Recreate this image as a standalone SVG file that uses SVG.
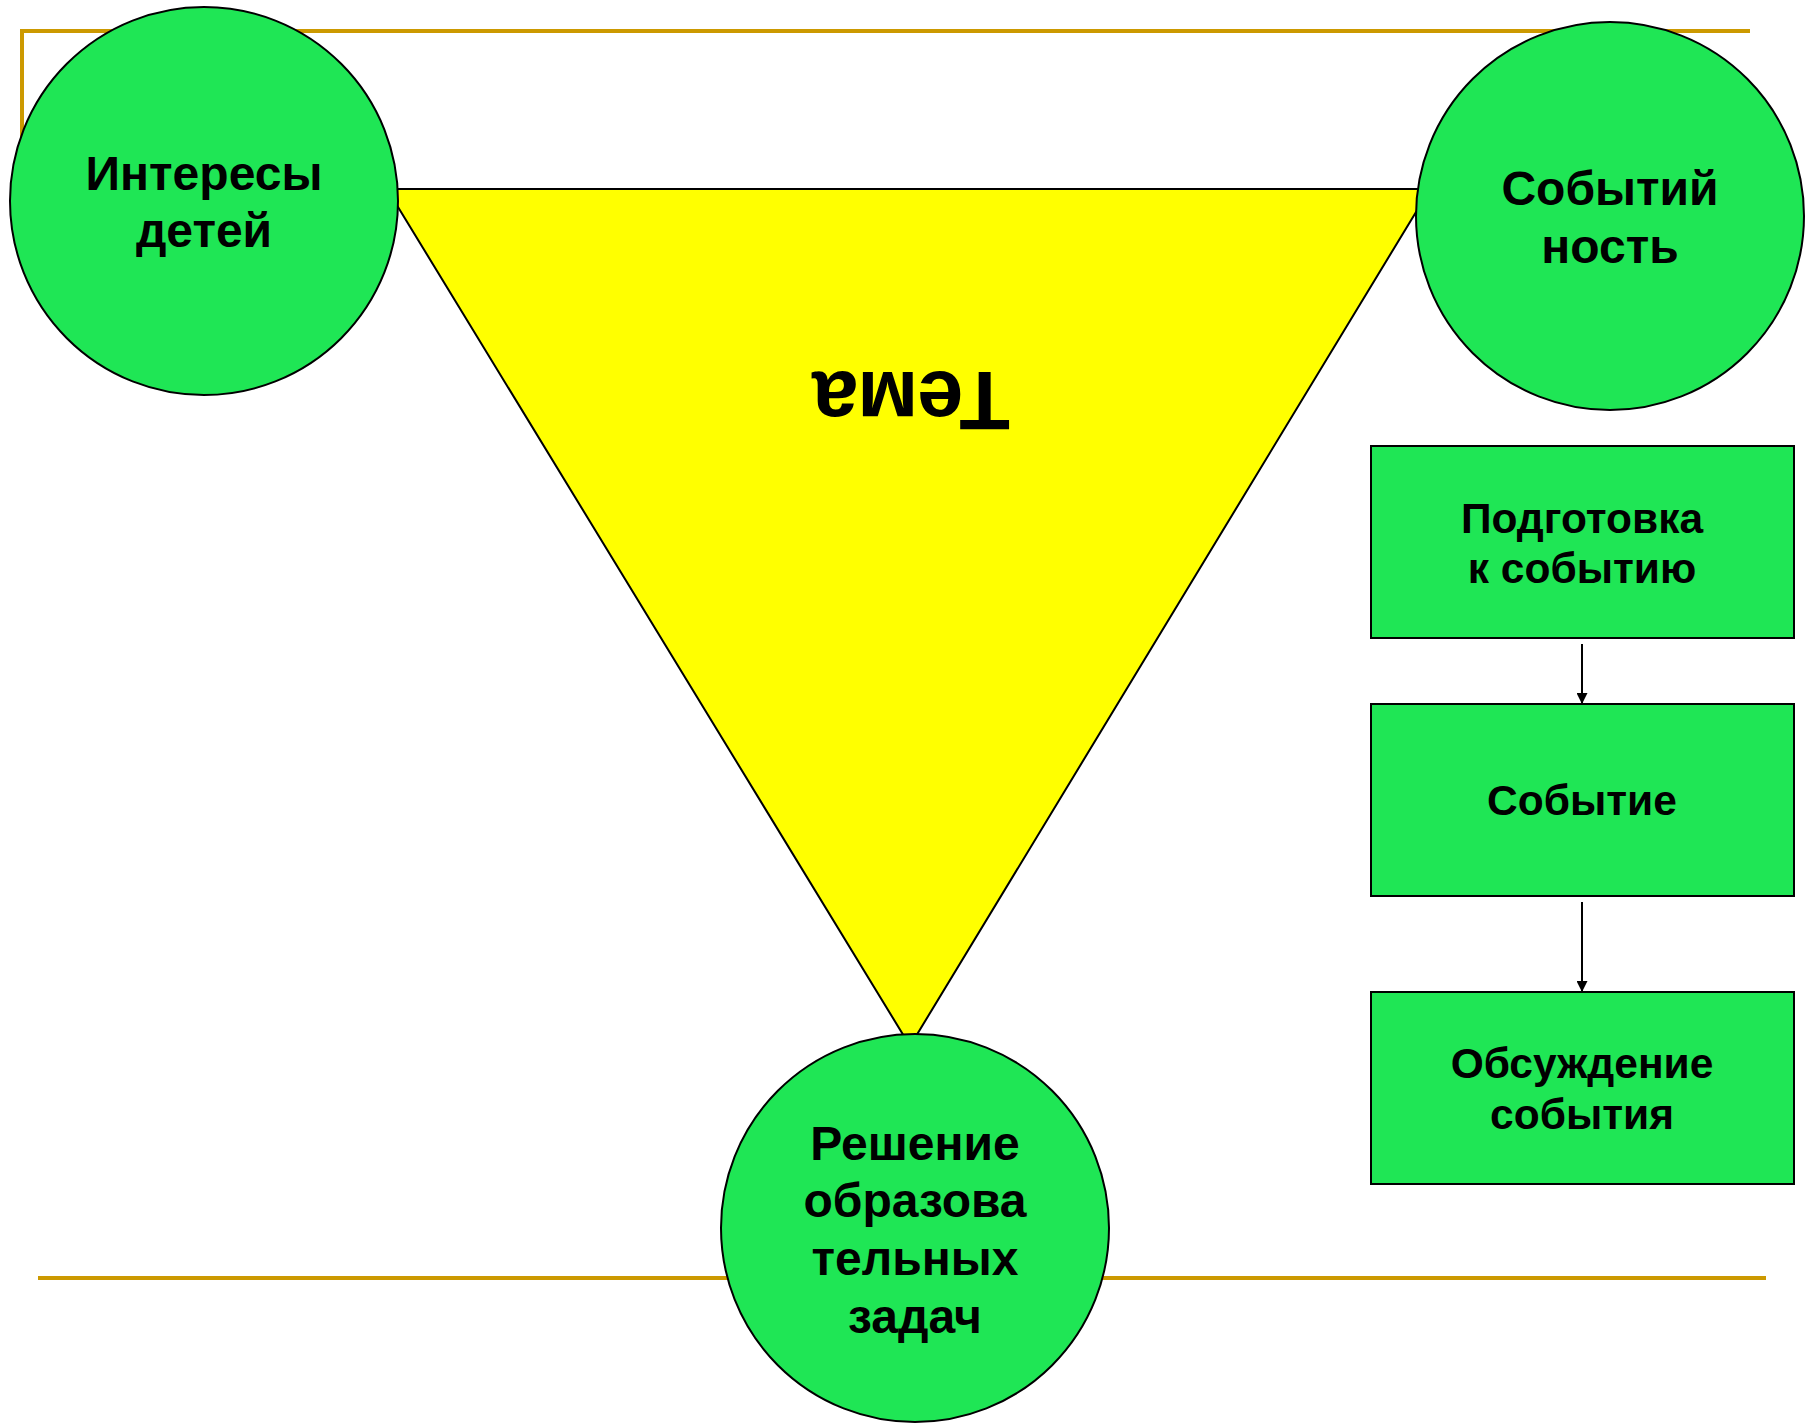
<svg xmlns="http://www.w3.org/2000/svg" width="1820" height="1423" viewBox="0 0 1820 1423">
<style>
.gold{stroke:#CC9900;stroke-width:4;fill:none}
.node{fill:#1FE655;stroke:#000;stroke-width:2}
.t{font-family:"Liberation Sans",Arial,sans-serif;font-weight:bold;fill:#000;text-anchor:middle}
.c{font-size:48px}
.b{font-size:42.5px}
.edge{stroke:#000;stroke-width:2;fill:none}
</style>
<defs>
<marker id="arr" markerWidth="11" markerHeight="11" refX="10" refY="5.5" orient="auto" markerUnits="userSpaceOnUse">
<path d="M0,0 L11,5.5 L0,11 z" fill="#000"/>
</marker>
</defs>
<rect width="1820" height="1423" fill="#fff"/>
<g id="frame">
<polyline class="gold" points="22,200 22,31 1750,31"/>
<line class="gold" x1="38" y1="1278" x2="1766" y2="1278"/>
</g>
<g id="tema">
<polygon points="387,189 1430,189 910,1046" fill="#FFFF00" stroke="#000" stroke-width="2"/>
<text class="t" font-size="83" transform="rotate(180 911 402)" x="911" y="432">Тема</text>
</g>
<g id="interests">
<circle class="node" cx="204" cy="201" r="194"/>
<text class="t c" x="204" y="190">Интересы</text>
<text class="t c" x="204" y="247">детей</text>
</g>
<g id="eventness">
<circle class="node" cx="1610" cy="216" r="194"/>
<text class="t c" x="1610" y="205">Событий</text>
<text class="t c" x="1610" y="263">ность</text>
</g>
<g id="tasks">
<circle class="node" cx="915" cy="1228" r="194"/>
<text class="t c" x="915" y="1160">Решение</text>
<text class="t c" x="915" y="1217">образова</text>
<text class="t c" x="915" y="1275">тельных</text>
<text class="t c" x="915" y="1333">задач</text>
</g>
<g id="prep">
<rect class="node" x="1371" y="446" width="423" height="192"/>
<text class="t b" x="1582" y="533">Подготовка</text>
<text class="t b" x="1582" y="583">к событию</text>
</g>
<g id="event">
<rect class="node" x="1371" y="704" width="423" height="192"/>
<text class="t b" x="1582" y="815">Событие</text>
</g>
<g id="discussion">
<rect class="node" x="1371" y="992" width="423" height="192"/>
<text class="t b" x="1582" y="1078">Обсуждение</text>
<text class="t b" x="1582" y="1129">события</text>
</g>
<g id="connectors">
<line class="edge" x1="1582" y1="644" x2="1582" y2="703" marker-end="url(#arr)"/>
<line class="edge" x1="1582" y1="902" x2="1582" y2="991" marker-end="url(#arr)"/>
</g>
</svg>
